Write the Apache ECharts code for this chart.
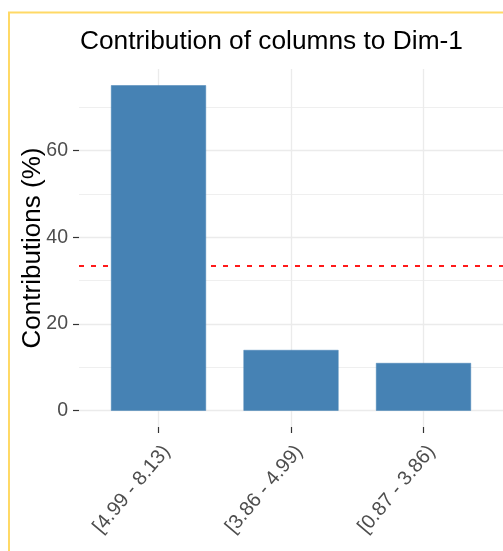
<!DOCTYPE html>
<html>
<head>
<meta charset="utf-8">
<script src="https://cdn.jsdelivr.net/npm/echarts@6/dist/echarts.min.js"></script>
<style>
html,body{margin:0;padding:0;background:#fff;}
#chart{width:503px;height:551px;}
</style>
</head>
<body>
<div id="chart"></div>
<script>
const titleText = 'Contribution of columns to Dim-1';
const yAxisTitle = 'Contributions (%)';
const categories = ['[4.99 - 8.13)', '[3.86 - 4.99)', '[0.87 - 3.86)'];
const contributions = [75.0, 14.0, 11.0];
const yTickValues = [0, 20, 40, 60];
const yMinorValues = [10, 30, 50, 70];
const expectedLine = 100 / 3;

const xIdx = categories.map((c, i) => i);
const LABEL_SHIFT = 0.06;
const gridMarks = []
  .concat(yTickValues.map(v => ({ yAxis: v, lineStyle: { color: '#EBEBEB', width: 1.3, type: 'solid' } })))
  .concat(yMinorValues.map(v => ({ yAxis: v, lineStyle: { color: '#EFEFEF', width: 1, type: 'solid' } })))
  .concat(xIdx.map(i => ({ xAxis: i, lineStyle: { color: '#EBEBEB', width: 1.3, type: 'solid' } })))
  .concat([{ yAxis: expectedLine, lineStyle: { color: '#FF1A1A', width: 1.9, type: [5, 7] } }]);

const hiddenLine = { show: true, onZero: false, lineStyle: { color: 'rgba(0,0,0,0)' } };
const chart = echarts.init(document.getElementById('chart'), null, { renderer: 'canvas' });
chart.setOption({
  animation: false,
  backgroundColor: '#ffffff',
  graphic: [{
    type: 'rect', silent: true, z: 100,
    shape: { x: 9, y: 12.5, width: 700, height: 700 },
    style: { fill: 'none', stroke: '#FFD966', lineWidth: 2 }
  }],
  title: {
    text: titleText, left: 80, top: 29, padding: 0,
    textStyle: { fontFamily: 'Liberation Sans', fontSize: 26.3, fontWeight: 'normal', color: '#000' }
  },
  grid: { left: 79, top: 69, width: 428, height: 358, containLabel: false },
  xAxis: [{
    type: 'value', min: -0.6, max: 2.6,
    axisLine: hiddenLine,
    splitLine: { show: false },
    axisTick: { show: true, inside: false, length: 6, customValues: xIdx, lineStyle: { color: '#333', width: 1.2 } },
    axisLabel: { show: false }
  }, {
    type: 'value', min: -0.6, max: 2.6, position: 'bottom',
    axisLine: { show: false, onZero: false },
    splitLine: { show: false },
    axisTick: { show: false },
    axisLabel: {
      show: true, customValues: xIdx.map(i => i + LABEL_SHIFT), rotate: 50, margin: 21,
      formatter: v => categories[Math.round(v)] || '',
      fontFamily: 'Liberation Sans', fontSize: 20, color: '#4D4D4D'
    }
  }],
  yAxis: [{
    type: 'value', min: -3.75, max: 78.75,
    name: yAxisTitle, nameLocation: 'middle', nameGap: 33, nameMoveOverlap: false,
    nameTextStyle: { fontFamily: 'Liberation Sans', fontSize: 26, color: '#000' },
    axisLine: hiddenLine,
    splitLine: { show: false },
    axisTick: { show: true, inside: false, length: 6, customValues: yTickValues, lineStyle: { color: '#333', width: 1.2 } },
    axisLabel: {
      show: true, customValues: yTickValues, margin: 11,
      fontFamily: 'Liberation Sans', fontSize: 19.5, color: '#4D4D4D'
    }
  }],
  series: [
    {
      type: 'line', z: 1, data: [], silent: true,
      markLine: { silent: true, z: 1, symbol: 'none', label: { show: false }, animation: false, data: gridMarks }
    },
    {
      type: 'bar', z: 3, barWidth: 95,
      data: contributions.map((v, i) => [i, v]),
      itemStyle: { color: '#4682B4', borderColor: '#4682B4', borderWidth: 0.5 }
    }
  ]
});
</script>
</body>
</html>
